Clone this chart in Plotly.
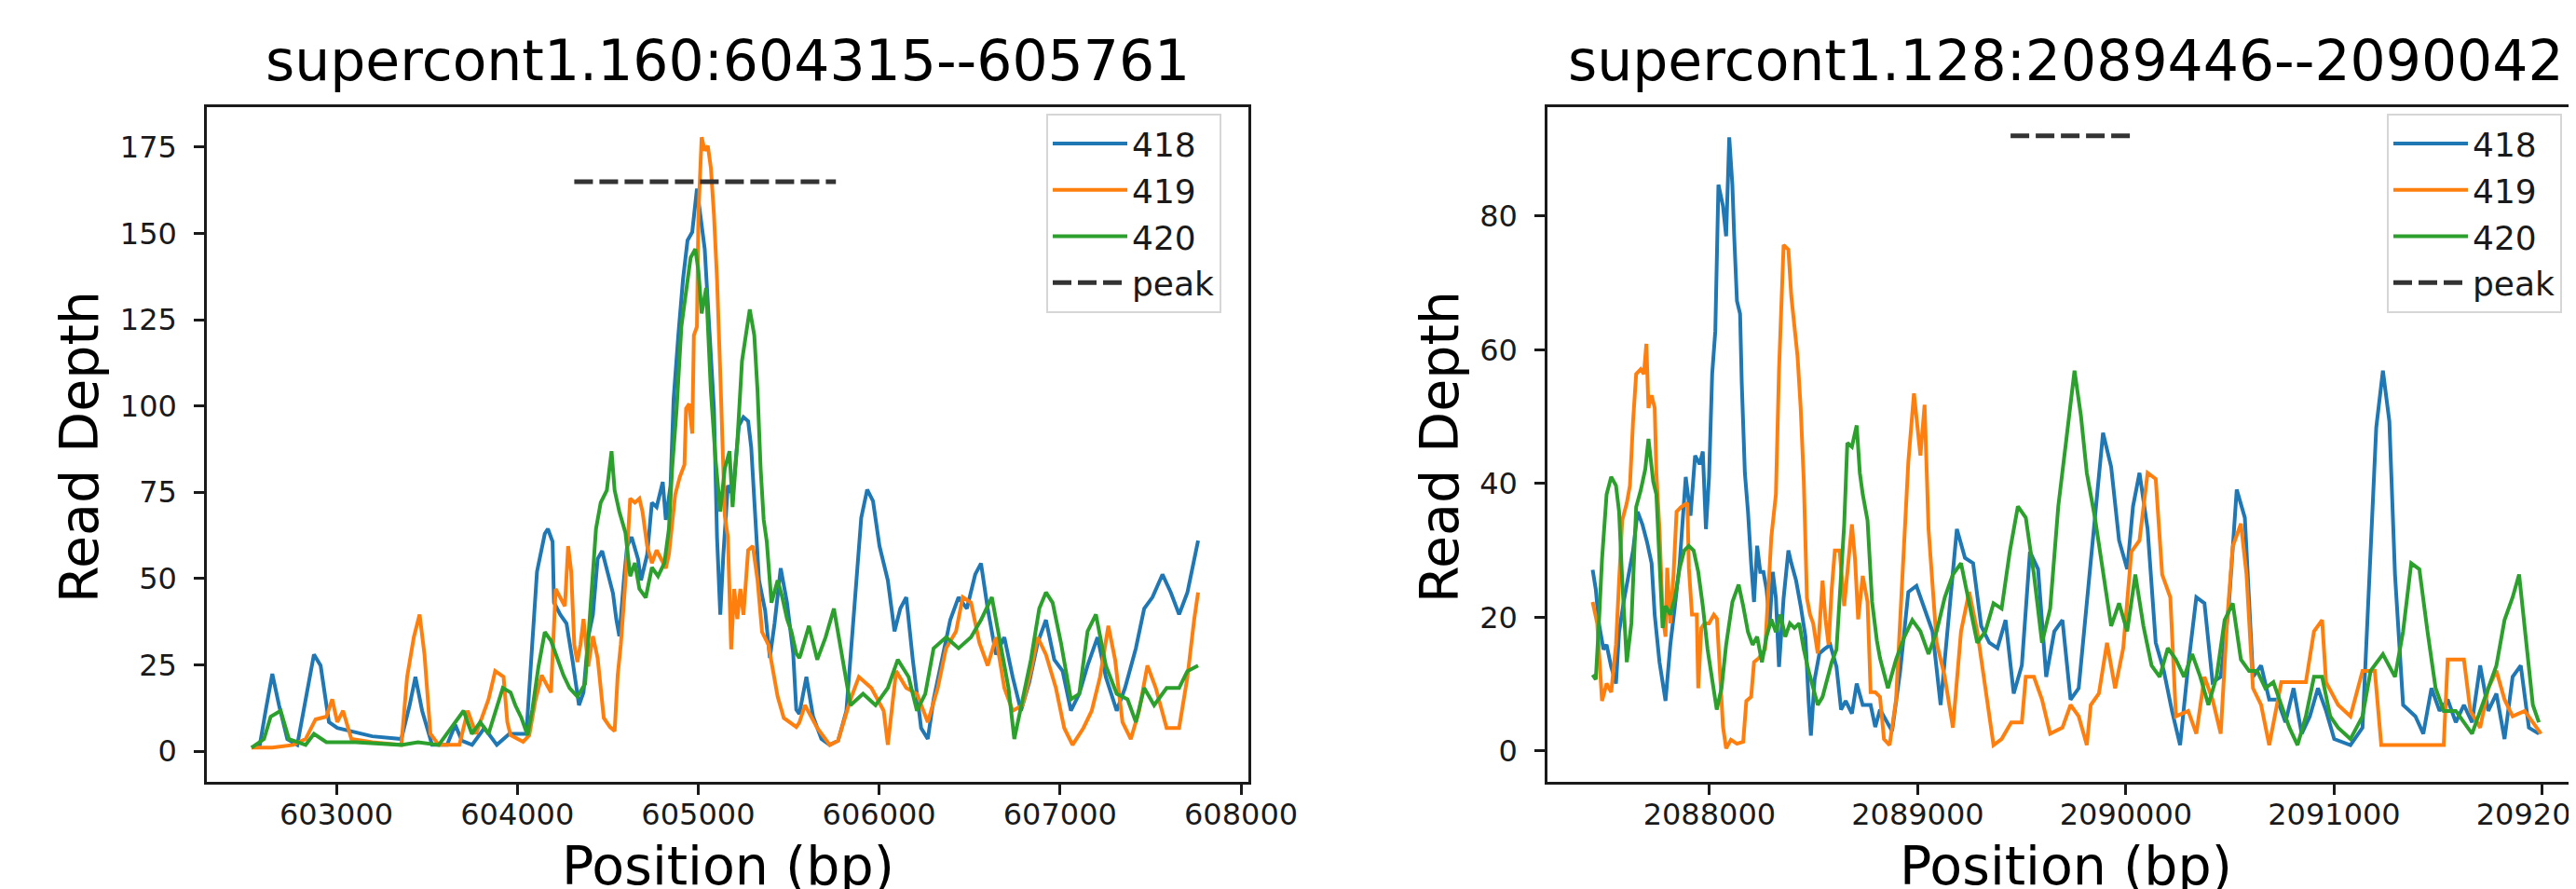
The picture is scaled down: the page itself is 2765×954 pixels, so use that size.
import plotly.graph_objects as go

# ---------------- Left panel: supercont1.160 ----------------
L_TITLE = "supercont1.160:604315--605761"
L_XTICKS = [603000, 604000, 605000, 606000, 607000, 608000]
L_YTICKS = [0, 25, 50, 75, 100, 125, 150, 175]
L_PEAK_X = [604315, 605761]
L_PEAK_Y = [165, 165]

L418_X = [602531, 602577, 602609, 602646, 602683, 602729, 602784, 602830, 602876, 602913, 602959, 603005, 603060, 603198, 603359, 603405, 603437, 603474, 603529, 603612, 603657, 603694, 603750, 603818, 603887, 603956, 604050,
          604092, 604109, 604152, 604169, 604195, 604203, 604238, 604272, 604306, 604341, 604366, 604392, 604418, 604444, 604469, 604495, 604529, 604547, 604564, 604589, 604607, 604632, 604667, 604684, 604718, 604744, 604770, 604804, 604821, 604847, 604864, 604890, 604916, 604941, 604967, 604993, 605010, 605036, 605062, 605087, 605104, 605122, 605139, 605164, 605190, 605225, 605250, 605276, 605293, 605319, 605336, 605370, 605396, 605422, 605456, 605491, 605525, 605542, 605559,
          605598, 605635, 605681, 605727, 605773, 605819, 605865, 605901, 605934, 605966, 606002, 606048, 606085, 606117, 606150, 606186, 606232, 606269, 606301, 606347, 606393, 606439, 606485, 606531, 606563, 606600, 606646, 606692, 606738, 606784, 606830, 606876, 606922, 606968, 607014, 607060, 607106, 607152, 607207, 607253, 607313, 607359, 607419, 607465, 607511, 607566, 607612, 607658, 607704, 607750, 607763]
L418_Y = [1, 1.8, 11.7, 22.4, 13.3, 3.5, 1.8, 15, 28, 24.8, 8.4, 6.7, 6, 4.3, 3.5, 13.3, 21.5, 11.7, 1.8, 1.8, 7.6, 3, 1.8, 6.7, 1.8, 5, 5,
          39.5, 52, 63, 64.4, 60.7, 43, 39.5, 37, 26, 13.3, 17, 33, 39.5, 55.7, 58, 53, 45.7, 38.3, 33.3, 49.5, 59.4, 62, 55.7, 49.5, 57, 72, 70.7, 78, 67, 77, 102, 120.5, 136.7, 148, 150.4, 163, 155.4, 145.5, 121.8, 99.3, 62, 39.5, 57, 77, 74.4, 94.3, 96.8, 95.6, 88, 62, 49.5, 40.7, 27, 37, 53, 43, 28.3, 12, 10.8,
          21.5, 10, 3.5, 1.8, 3, 11.7, 43, 67.6, 75.8, 72.5, 59.4, 49.5, 34.7, 41.3, 44.6, 26.5, 6.7, 3.5, 15, 26.5, 38, 44.6, 41.3, 51.2, 54.4, 41.3, 28, 33, 21.5, 11.7, 20, 31.4, 38, 26.5, 23.2, 11.7, 16.6, 24.8, 33, 21.5, 11.7, 18.3, 29.8, 41.3, 44.6, 51.2, 46, 39.6, 46, 57.7, 61]

L419_X = [602531, 602646, 602761, 602830, 602885, 602945, 602977, 603005, 603037, 603083, 603198, 603359, 603391, 603428, 603460, 603487, 603520, 603566, 603680, 603726, 603772, 603841, 603878, 603924, 603945,
          603963, 604032, 604066, 604100, 604135, 604160, 604186, 604212, 604238, 604263, 604281, 604298, 604315, 604332, 604349, 604366, 604392, 604418, 604444, 604478, 604512, 604538, 604555, 604572, 604598, 604624, 604650, 604675, 604692, 604718, 604744, 604770, 604795, 604821, 604838, 604856, 604873, 604898, 604924, 604933, 604950, 604967, 604976, 604993, 605001, 605019, 605036, 605053, 605070, 605087, 605104, 605122, 605139, 605147, 605164, 605182, 605199, 605216, 605233, 605250, 605276, 605302, 605328, 605353, 605388, 605413, 605439, 605473, 605508, 605542, 605559,
          605590, 605658, 605727, 605773, 605842, 605888, 605957, 606025, 606048, 606094, 606150, 606209, 606269, 606324, 606370, 606425, 606462, 606508, 606554, 606600, 606646, 606692, 606738, 606793, 606839, 606876, 606922, 606977, 607023, 607069, 607129, 607175, 607221, 607267, 607304, 607345, 607391, 607437, 607483, 607529, 607589, 607658, 607704, 607741, 607763]
L419_Y = [1, 1, 1.8, 3.5, 9.2, 10, 15, 8.4, 11.7, 3.5, 2.6, 1.8, 21.5, 33, 39.6, 28, 5, 1.8, 1.8, 11.7, 5, 15, 23.2, 21.5, 8.4,
          4.6, 2.7, 4.6, 14.6, 22, 19.5, 17, 47, 44.5, 42, 59.4, 52, 30.8, 25.8, 30.8, 38.3, 24.5, 33.3, 27, 9.6, 7, 5.8, 22, 30.8, 49.5, 73.2, 72, 73.2, 69.4, 59.4, 54.5, 58.2, 55.7, 53, 57, 67, 74.4, 79.4, 83, 99.3, 100.6, 92, 120.5, 123, 155.4, 177.9, 174, 175.4, 169, 155.4, 136.7, 109.3, 81.9, 68.2, 62, 29.5, 47, 38.3, 47, 39.5, 58.2, 59.4, 49.5, 34.5, 30.8, 23.3, 15.8, 9.6, 8.3, 7, 8.3,
          13.3, 6.7, 1.8, 3, 15, 21.5, 18.3, 11.7, 1.8, 23.2, 18.3, 16.6, 8.4, 18.3, 29.8, 34.7, 44.6, 43, 31.4, 24.8, 33, 18.3, 11.7, 13.3, 23.2, 33, 28, 18.3, 6.7, 1.8, 6.7, 11.7, 21.5, 36.3, 26.5, 8.4, 3.5, 11.7, 24.8, 18.3, 6.7, 6.7, 21.5, 38, 46]

L420_X = [602531, 602600, 602637, 602692, 602738, 602830, 602876, 602945, 603106, 603359, 603451, 603566, 603703, 603749, 603795, 603841, 603920,
          603963, 603989, 604023, 604057, 604083, 604117, 604152, 604186, 604220, 604255, 604289, 604332, 604375, 604409, 604435, 604461, 604495, 604521, 604538, 604564, 604598, 604624, 604650, 604675, 604710, 604744, 604778, 604813, 604838, 604856, 604881, 604907, 604933, 604958, 604984, 605001, 605019, 605044, 605070, 605096, 605122, 605147, 605173, 605190, 605216, 605242, 605267, 605285, 605310, 605328, 605345, 605362, 605379, 605405, 605439, 605465, 605491, 605516, 605542, 605559,
          605566, 605612, 605658, 605704, 605750, 605796, 605842, 605911, 605980, 606048, 606103, 606163, 606209, 606255, 606301, 606370, 606439, 606508, 606563, 606623, 606669, 606715, 606747, 606784, 606839, 606885, 606922, 606959, 607005, 607060, 607106, 607152, 607198, 607253, 607313, 607373, 607419, 607465, 607520, 607589, 607658, 607704, 607763]
L420_Y = [1, 3.5, 10, 11.7, 3.5, 1.8, 5, 2.6, 2.6, 1.8, 2.6, 1.8, 11.7, 5, 8.4, 5, 18.3,
          17, 13.3, 9.6, 4.6, 12, 24.5, 34.5, 32, 27, 22, 18.3, 15.8, 19.5, 43, 64.4, 72, 75.6, 86.9, 75.6, 69.4, 63.2, 50.7, 54.5, 47, 44.5, 53.2, 50.7, 54.5, 64.4, 81.9, 99.3, 123, 134.2, 143, 145.5, 139.2, 126.8, 134.2, 104.3, 84.4, 69.4, 81.9, 86.9, 70.7, 89.4, 113, 121.8, 128, 120.5, 104.3, 81.9, 67, 60.7, 43, 49.5, 44.5, 38.3, 34.5, 28.3, 27,
          28, 36.3, 26.5, 33, 41.3, 28, 13.3, 16.6, 13.3, 18.3, 26.5, 21.5, 11.7, 16.6, 29.8, 33, 29.8, 33, 38, 44.6, 31.4, 18.3, 3.5, 13.3, 26.5, 41.3, 46, 43, 31.4, 15, 16.6, 34.7, 39.6, 24.8, 16.6, 15, 8.4, 18.3, 13.3, 18.3, 18.3, 23.2, 24.8]

# ---------------- Right panel: supercont1.128 ----------------
R_TITLE = "supercont1.128:2089446--2090042"
R_XTICKS = [2088000, 2089000, 2090000, 2091000, 2092000]
R_YTICKS = [0, 20, 40, 60, 80]
R_PEAK_X = [2089446, 2090042]
R_PEAK_Y = [92, 92]

R418_X = [2087439, 2087454, 2087469, 2087491, 2087506, 2087528, 2087551, 2087566, 2087588, 2087610, 2087633, 2087655, 2087678, 2087700, 2087722, 2087737, 2087760, 2087789, 2087812, 2087834, 2087857, 2087886, 2087909, 2087931, 2087953, 2087968, 2087983, 2087998, 2088013, 2088028, 2088043, 2088065, 2088080, 2088095, 2088110, 2088118, 2088132, 2088147, 2088155, 2088170, 2088185, 2088200, 2088214, 2088229, 2088244, 2088259, 2088274, 2088289, 2088304, 2088319, 2088334, 2088356, 2088379, 2088393, 2088416, 2088438, 2088461, 2088476, 2088487, 2088505, 2088528, 2088550, 2088580, 2088610, 2088632, 2088654, 2088684, 2088707, 2088736, 2088774, 2088796, 2088819,
          2088877, 2088916, 2088955, 2088994, 2089033, 2089071, 2089110, 2089149, 2089188, 2089227, 2089266, 2089305, 2089344, 2089383, 2089422, 2089461, 2089500, 2089539, 2089578, 2089617, 2089656, 2089695, 2089734, 2089773, 2089812, 2089851, 2089890, 2089929, 2089967, 2090006, 2090034, 2090065, 2090104, 2090143, 2090182, 2090221, 2090260, 2090299, 2090338, 2090377, 2090416, 2090455, 2090493, 2090532, 2090571, 2090610, 2090649, 2090688, 2090727, 2090766, 2090805, 2090844, 2090883, 2090922, 2090961, 2091000, 2091078, 2091136, 2091175, 2091202, 2091234, 2091265, 2091292, 2091331, 2091390, 2091428, 2091467, 2091506, 2091545, 2091584, 2091623, 2091662, 2091701, 2091740, 2091779, 2091818, 2091857, 2091896, 2091935, 2091983]
R418_Y = [27.1, 24.2, 19.1, 15.2, 15.9, 12.6, 10.1, 17.8, 22.3, 26.2, 30, 35.8, 33.9, 31.3, 28.1, 20.4, 13.3, 7.5, 15.9, 21.7, 28.1, 41, 35.2, 44.2, 42.9, 44.8, 33.2, 41, 56.4, 62.8, 84.7, 81.5, 77, 91.8, 84.7, 77.6, 67.3, 65.4, 55.1, 41.6, 35.8, 28.1, 22.3, 30.7, 26.8, 26.8, 24.2, 19.1, 26.8, 22.9, 12.6, 22.9, 30, 28.1, 25.5, 21.7, 17.1, 7.5, 2.3, 10.7, 14.6, 15.2, 15.9, 12.6, 6.2, 7.5, 5.6, 10.1, 6.9, 6.9, 3.6, 6.2,
          3, 12, 23.8, 24.7, 21.3, 17.9, 6.9, 19.6, 33.2, 28.9, 28.1, 18.7, 16.2, 15.4, 19.6, 8.6, 12.8, 29.8, 27.2, 11.1, 17.9, 19.6, 7.7, 9.4, 22.1, 34.9, 47.6, 42.5, 31.5, 27.2, 36.6, 41.6, 33.2, 16.2, 12, 6, 0.9, 12.8, 23, 22.1, 10.3, 11.1, 21.3, 39.1, 34.9, 11.1, 12.8, 7.7, 7.7, 4.3, 9.4, 2.6, 5.2, 9.4, 6, 1.8, 0.9, 3.5, 31.5, 48.4, 56.9, 49.3, 26.4, 6.9, 5.2, 2.6, 9.4, 6, 7.7, 4.3, 6.9, 4.3, 12.8, 6, 8.6, 1.8, 11.1, 12.8, 3.5, 2.6]

R419_X = [2087439, 2087461, 2087484, 2087506, 2087528, 2087551, 2087566, 2087581, 2087603, 2087618, 2087633, 2087648, 2087670, 2087685, 2087697, 2087707, 2087722, 2087737, 2087745, 2087760, 2087775, 2087789, 2087797, 2087812, 2087827, 2087842, 2087864, 2087894, 2087901, 2087916, 2087939, 2087946, 2087961, 2087976, 2087998, 2088021, 2088036, 2088050, 2088065, 2088080, 2088103, 2088132, 2088162, 2088177, 2088200, 2088214, 2088237, 2088267, 2088297, 2088319, 2088334, 2088356, 2088379, 2088393, 2088408, 2088423, 2088438, 2088453, 2088468, 2088483, 2088498, 2088520, 2088543, 2088557, 2088572, 2088587, 2088602, 2088625, 2088647, 2088669, 2088684, 2088699, 2088714, 2088736, 2088759, 2088774, 2088796, 2088819,
          2088838, 2088865, 2088896, 2088927, 2088955, 2088982, 2089013, 2089033, 2089052, 2089091, 2089130, 2089169, 2089208, 2089247, 2089286, 2089325, 2089364, 2089403, 2089449, 2089500, 2089519, 2089558, 2089597, 2089636, 2089695, 2089734, 2089773, 2089812, 2089831, 2089870, 2089909, 2089948, 2089987, 2090026, 2090065, 2090104, 2090143, 2090174, 2090213, 2090240, 2090299, 2090338, 2090377, 2090416, 2090455, 2090486, 2090513, 2090552, 2090579, 2090610, 2090649, 2090688, 2090746, 2090805, 2090864, 2090903, 2090942, 2090961, 2091019, 2091078, 2091136, 2091195, 2091226, 2091312, 2091428, 2091526, 2091545, 2091623, 2091654, 2091701, 2091740, 2091779, 2091818, 2091857, 2091915, 2091954, 2091993]
R419_Y = [22.3, 19.1, 7.5, 10.1, 8.8, 15.9, 25.5, 34.5, 37.1, 39.7, 49.3, 56.4, 57.1, 56.4, 60.9, 51.3, 53.2, 51.3, 41.6, 33.2, 20.4, 17.1, 27.4, 19.1, 26.2, 35.8, 36.5, 37.1, 27.4, 20.4, 20.4, 9.4, 18.4, 19.1, 19.1, 20.4, 19.8, 12.6, 3.6, 0.4, 1.7, 1.1, 1.4, 7.5, 8.1, 13.3, 13.9, 15.2, 32, 38.4, 57.1, 75.7, 75, 68, 62.8, 59, 51.3, 40.3, 22.9, 20.4, 19.1, 14.6, 25.5, 19.7, 15.9, 24.2, 30, 30, 21.7, 28.7, 33.9, 28.7, 19.7, 26.2, 22.3, 8.8, 8.8, 8.1,
          1.8, 0.9, 7.7, 26.4, 43.3, 53.5, 44.2, 51.8, 33.2, 16.2, 11.1, 3.5, 17.9, 23.8, 17.9, 9.4, 0.9, 1.8, 4.3, 4.3, 11.1, 11.1, 7.7, 2.6, 3.5, 6.9, 5.2, 0.9, 6.9, 8.6, 16.2, 9.4, 15.4, 29.8, 31.5, 41.6, 40.7, 26.4, 23, 5.2, 6, 2.6, 11.1, 7.7, 2.6, 19.6, 30.6, 34, 26.4, 9.4, 6.9, 0.9, 10.3, 10.3, 10.3, 17.9, 19.6, 10.3, 6.9, 5.2, 12, 12, 0.9, 0.9, 0.9, 0.9, 13.7, 13.7, 6, 3.5, 9.4, 12, 7.7, 5.2, 6, 4.3, 2.6]

R420_X = [2087439, 2087454, 2087469, 2087484, 2087506, 2087528, 2087551, 2087566, 2087581, 2087603, 2087625, 2087648, 2087670, 2087692, 2087707, 2087730, 2087745, 2087760, 2087775, 2087789, 2087812, 2087834, 2087857, 2087879, 2087901, 2087924, 2087946, 2087968, 2087991, 2088013, 2088035, 2088058, 2088080, 2088110, 2088140, 2088162, 2088185, 2088207, 2088229, 2088252, 2088274, 2088297, 2088319, 2088341, 2088364, 2088386, 2088408, 2088431, 2088453, 2088476, 2088498, 2088520, 2088543, 2088565, 2088587, 2088610, 2088632, 2088647, 2088662, 2088684, 2088707, 2088722, 2088736, 2088759, 2088781, 2088804, 2088819,
          2088857, 2088896, 2088935, 2088974, 2089013, 2089052, 2089091, 2089130, 2089169, 2089208, 2089247, 2089286, 2089325, 2089364, 2089403, 2089442, 2089481, 2089519, 2089558, 2089597, 2089636, 2089675, 2089714, 2089753, 2089784, 2089812, 2089851, 2089890, 2089929, 2089967, 2090006, 2090045, 2090084, 2090123, 2090162, 2090201, 2090240, 2090279, 2090318, 2090357, 2090396, 2090435, 2090474, 2090513, 2090552, 2090591, 2090630, 2090669, 2090708, 2090746, 2090785, 2090824, 2090864, 2090903, 2090942, 2090981, 2091019, 2091078, 2091136, 2091175, 2091234, 2091292, 2091331, 2091370, 2091409, 2091448, 2091487, 2091526, 2091584, 2091623, 2091662, 2091701, 2091740, 2091779, 2091818, 2091857, 2091888, 2091915, 2091954, 2091983]
R420_Y = [11.4, 10.7, 19.1, 28.7, 38.4, 41, 39.7, 35.8, 25.5, 13.3, 19.1, 36.5, 39, 42.2, 46.7, 40.3, 38.4, 26.8, 18.4, 21.7, 20.4, 22.9, 27.4, 30, 30.7, 30, 26.8, 21.7, 15.2, 10.7, 6.2, 9.4, 15.9, 22.3, 24.9, 21.7, 17.8, 15.9, 17.1, 13.3, 17.1, 19.7, 17.8, 20.4, 17.1, 19.1, 18.4, 19.1, 15.2, 12, 9.4, 6.9, 8.1, 10.7, 13.3, 15.2, 26.8, 33.9, 46.1, 45.5, 48.7, 41.6, 38.4, 34.5, 22.3, 16.5, 13.9,
          9.4, 13.7, 17, 19.6, 17.9, 14.5, 17.9, 23, 26.4, 28.1, 22.1, 16.2, 17.9, 22.1, 21.3, 29.8, 36.6, 34.9, 26.4, 16.2, 21.3, 36.6, 46.7, 56.9, 50.1, 41.6, 34.9, 26.4, 18.7, 22.1, 17.9, 26.4, 18.7, 12.8, 11.1, 15.4, 13.7, 11.1, 14.5, 11.1, 6.9, 11.1, 19.6, 22.1, 13.7, 12, 12, 9.4, 10.3, 6.9, 3.5, 0.9, 5.2, 11.1, 11.1, 5.2, 3.5, 1.8, 5.2, 12, 14.5, 11.1, 17.9, 28.1, 27.2, 17.9, 9.4, 6, 6, 4.3, 2.6, 6, 9.4, 12.8, 19.6, 23, 26.4, 18.7, 6.9, 4.3]

SERIES = ["418", "419", "420"]
COLORS = {"418": "#1f77b4", "419": "#ff7f0e", "420": "#2ca02c"}
PEAK_NAME = "peak"

W, H = 2765, 954
FONT = "DejaVu Sans"
INK = "#1a1a1a"

fig = go.Figure()

panels = [
    ("x", "y", "legend", {"418": (L418_X, L418_Y), "419": (L419_X, L419_Y), "420": (L420_X, L420_Y)}, L_PEAK_X, L_PEAK_Y),
    ("x2", "y2", "legend2", {"418": (R418_X, R418_Y), "419": (R419_X, R419_Y), "420": (R420_X, R420_Y)}, R_PEAK_X, R_PEAK_Y),
]
for xa, ya, leg, data, px, py in panels:
    for s in SERIES:
        xs, ys = data[s]
        fig.add_trace(go.Scatter(x=xs, y=ys, mode="lines", name=s,
                                 line=dict(color=COLORS[s], width=4),
                                 xaxis=xa, yaxis=ya, legend=leg, legendgroup=leg + s))
    fig.add_trace(go.Scatter(x=px, y=py, mode="lines", name=PEAK_NAME,
                             line=dict(color="#333333", width=5, dash="20px,7px"),
                             xaxis=xa, yaxis=ya, legend=leg, legendgroup=leg + "peak"))

def px2x(p):
    return p / W

def px2y(p):
    return 1 - p / H

axis_common = dict(showline=True, linecolor=INK, linewidth=2.5, ticks="outside", ticklen=11,
                   tickwidth=2.5, tickcolor=INK, showgrid=False, zeroline=False, automargin=False,
                   ticklabeloverflow="allow",
                   tickfont=dict(family=FONT, size=32, color=INK), tickmode="array")

legend_common = dict(xanchor="left", yanchor="top", bgcolor="rgba(255,255,255,0.85)",
                     bordercolor="#d6d6d6", borderwidth=2,
                     font=dict(family=FONT, size=36, color=INK), itemwidth=80, tracegroupgap=0)

fig.update_layout(
    width=W, height=H, margin=dict(l=0, r=0, t=0, b=0, autoexpand=False),
    paper_bgcolor="white", plot_bgcolor="white",
    xaxis=dict(domain=[px2x(214), px2x(1332)], range=[602284, 608041], anchor="y", mirror=True,
               tickvals=L_XTICKS, ticktext=[str(v) for v in L_XTICKS], ticklabelstandoff=-6, **axis_common),
    yaxis=dict(domain=[px2y(831), px2y(107)], range=[-8.9, 186.6], anchor="x", mirror=True,
               tickvals=L_YTICKS, ticktext=[str(v) for v in L_YTICKS], ticklabelstandoff=12, **axis_common),
    xaxis2=dict(domain=[px2x(1653), 1.0], range=[2087222, 2092197], anchor="y2", mirror=True,
                tickvals=R_XTICKS, ticktext=[str(v) for v in R_XTICKS], ticklabelstandoff=-6, **axis_common),
    yaxis2=dict(domain=[px2y(831), px2y(107)], range=[-4.6, 96.3], anchor="x2", mirror=False,
                tickvals=R_YTICKS, ticktext=[str(v) for v in R_YTICKS], ticklabelstandoff=12, **axis_common),
    legend=dict(x=px2x(1115), y=px2y(114), **legend_common),
    legend2=dict(x=px2x(2554), y=px2y(114), **legend_common),
    showlegend=True,
)

ann = []
ann.append(dict(text=L_TITLE, x=px2x(773), y=px2y(57), xref="paper", yref="paper", showarrow=False,
                xanchor="center", yanchor="middle", font=dict(family=FONT, size=60, color="#000")))
ann.append(dict(text=R_TITLE, x=px2x(2209), y=px2y(57), xref="paper", yref="paper", showarrow=False,
                xanchor="center", yanchor="middle", font=dict(family=FONT, size=60, color="#000")))
for cx in (773, 2209):
    ann.append(dict(text="Position (bp)", x=px2x(cx), y=px2y(921), xref="paper", yref="paper", showarrow=False,
                    xanchor="center", yanchor="middle", font=dict(family=FONT, size=57, color="#000")))
for cx, cy in ((77, 472), (1537, 472)):
    ann.append(dict(text="Read Depth", x=px2x(cx), y=px2y(cy), xref="paper", yref="paper", showarrow=False,
                    textangle=-90, xanchor="center", yanchor="middle", font=dict(family=FONT, size=57, color="#000")))
fig.update_layout(annotations=ann)

fig.write_html("out.html")
